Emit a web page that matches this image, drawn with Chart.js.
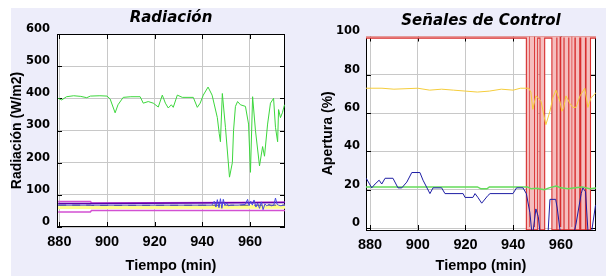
<!DOCTYPE html>
<html>
<head>
<meta charset="utf-8">
<script src="https://cdn.jsdelivr.net/npm/chart.js@4.4.1/dist/chart.umd.min.js"></script>
<style>
  body { margin: 0; background: #fff; width: 606px; height: 276px; overflow: hidden; position: relative; }
  #bg { position: absolute; left: 11px; top: 8px; right: 0; bottom: 0; background: #ededfa; }
  canvas { position: absolute; top: 0; }
  #rad { left: 0; }
  #ctrl { left: 303px; }
</style>
</head>
<body>
<div id="bg"></div>
<canvas id="rad" width="303" height="276"></canvas>
<canvas id="ctrl" width="303" height="276"></canvas>
<script>
// tick labels
const timeTicks = [880, 900, 920, 940, 960];
const radTicks = [0, 100, 200, 300, 400, 500, 600];
const ctrlTicks = [0, 20, 40, 60, 80, 100];

// Radiacion - green series
const radTime = [879.5, 881, 883, 886, 889, 891.5, 893, 897, 900, 901.3, 903.4, 904.6, 906.8, 910, 913.9,
  915.2, 917.3, 919.4, 921.5, 923.2, 924.5, 925.7, 927, 927.8, 929.5, 931.6, 936.2, 937.9, 939.1, 940.4,
  942.4, 944.1, 946.3, 947.1, 947.6, 948.4, 949.7, 951.4, 952.6, 953.1, 953.9, 954.8, 956, 958.1, 959.4,
  960.2, 961.1, 962.3, 964, 965.3, 966.1, 967.4, 968.6, 969.9, 970.7, 971.6, 972, 972.8, 973.6, 974.5];
const radValue = [400, 395, 405, 408, 406, 402, 407, 408, 407, 398, 355, 380, 403, 405, 405,
  385, 390, 385, 373, 410, 385, 370, 380, 372, 410, 403, 403, 372, 385, 410,
  435, 410, 340, 290, 265, 415, 310, 155, 200, 300, 375, 390, 380, 375, 320,
  170, 405, 300, 190, 250, 220, 320, 385, 400, 310, 265, 365, 340, 355, 380];

// Radiacion - lower lines
const bandTime = [879.5, 893, 893.5, 975];
const magUpper = [79, 79, 75, 77];
const magLower = [47, 47, 51, 51];
const yellowLow = [62, 62, 62, 63];
const grayLow = [68, 68, 67, 68];
const purpleLow = [73, 73, 73, 76];
const blueLowTime = [879.5, 944, 945, 945.7, 946.3, 947, 947.6, 948.2, 948.8, 949.5, 950.2, 951, 952, 955,
  958, 959, 959.6, 960.3, 961, 961.7, 962.5, 963.2, 964, 964.8, 965.5, 966.3, 967, 968, 969, 970,
  970.7, 971.4, 972, 973, 974, 975];
const blueLow = [68, 68, 80, 62, 85, 60, 88, 58, 86, 66, 75, 66, 68, 68,
  70, 86, 66, 80, 68, 84, 62, 74, 58, 78, 54, 72, 66, 70, 66, 68,
  90, 70, 68, 66, 68, 68];

// Senales de Control
const redTime = [878.3, 946.2, 946.2, 947.4, 947.4, 948.3, 948.3, 949.6, 949.6, 951.9, 951.9, 952.5, 952.5,
  956.9, 956.9, 957.6, 957.6, 959, 959, 960.6, 960.6, 962, 962, 962.6, 962.6, 964, 964, 965.2, 965.2,
  966.7, 966.7, 967.2, 967.2, 969, 969, 969.6, 969.6, 971.2, 971.2, 971.7, 971.7, 975];
const redValue = [100, 100, 0, 0, 100, 100, 0, 0, 100, 100, 0, 0, 100,
  100, 0, 0, 100, 100, 0, 0, 100, 100, 0, 0, 100, 100, 0, 0, 100,
  100, 0, 0, 100, 100, 0, 0, 100, 100, 0, 0, 100, 100];

const yellowTime = [878.3, 885, 890, 900, 905, 910, 915, 920, 925, 930, 935, 940, 943, 945, 946.5, 947.4,
  948.2, 949.5, 950.5, 951.7, 953, 953.7, 955.4, 956.6, 957.9, 959.6, 960.4, 961.2, 962.1, 963.8, 965,
  966.3, 968, 970, 971.3, 972.6, 974.2, 975];
const yellowValue = [73, 73, 72.5, 73, 72, 72.5, 72, 71.5, 71, 71.5, 72.5, 72, 73, 73, 73, 71,
  62, 69, 68, 66, 58, 54, 61, 68, 72, 66, 61, 63, 69, 65, 63,
  63, 69, 73, 63, 68, 70, 71];

const greenTime = [878.3, 925, 926.5, 929, 930, 946, 947.5, 950, 953, 955, 958, 960, 963, 966, 969, 972, 975];
const greenValue = [21.5, 21.5, 20.5, 20.5, 21.5, 21.5, 20.5, 20.8, 20, 21, 22, 21, 20.5, 21, 21.5, 20.5, 21];

const blueTime = [878.4, 880.7, 882.1, 883.8, 884.9, 886.3, 889.6, 891.7, 893.3, 895.4, 897.5, 900.9, 902.2,
  905.1, 906.4, 910, 911.4, 919, 919.8, 923.1, 924, 925.2, 926.8, 929.4, 930.3, 939.9, 941.4, 944.1,
  945.5, 947, 948, 949.5, 950.5, 951.5, 954.5, 955.4, 957.8, 958.5, 960, 965, 966.3, 968.5, 969.2,
  970.3, 971.5, 972.5, 974.5];
const blueValue = [26, 21, 23, 25, 23, 26, 26, 21, 21, 24, 29, 29, 25,
  18, 21, 21, 18, 18, 16, 16, 18, 16, 13, 17, 18, 18, 21, 21,
  18, 8, -5, 10, 6, -5, -5, 15, 15, 10, -5, -5, 2, 18, 21,
  19, -5, -5, 12];

const pts = (t, v) => t.map((x, i) => ({ x: x, y: v[i] }));

// pick a narrow bold face for the time axis if one is installed
function hasFont(name) {
  const c = document.createElement('canvas').getContext('2d');
  const probe = 'Tiempo (min) 880';
  c.font = 'bold 16px monospace';
  const a = c.measureText(probe).width;
  c.font = "bold 16px '" + name + "', monospace";
  return Math.abs(c.measureText(probe).width - a) > 0.5;
}
let xFont;
if (hasFont('Liberation Sans Narrow')) {
  xFont = { family: "'Liberation Sans Narrow'", size: 15.5, weight: 'bold' };
} else {
  xFont = { family: "'Liberation Sans'", size: 14.5, weight: 'bold' };
}

const gridColor = 'rgb(200,200,200)';
const tickFont = { family: 'DejaVu Sans', size: 11.5, weight: 'bold' };
const titleFont = { family: 'DejaVu Sans', size: 15, weight: 'bold', style: 'italic' };
const yTitleFont = { family: 'Liberation Sans', size: 14, weight: 'bold' };

// white plot area, black frame and inner tick marks
const frame = {
  id: 'frame',
  beforeDraw(chart) {
    const a = chart.chartArea, ctx = chart.ctx;
    ctx.save();
    ctx.fillStyle = '#fff';
    ctx.fillRect(a.left, a.top, a.width, a.height);
    ctx.restore();
  },
  beforeDatasetsDraw(chart) {
    const a = chart.chartArea, ctx = chart.ctx;
    const x = chart.scales.x, y = chart.scales.y;
    ctx.save();
    ctx.strokeStyle = '#000';
    ctx.lineWidth = 1;
    ctx.beginPath();
    x.ticks.forEach(t => {
      const px = Math.round(x.getPixelForValue(t.value)) + 0.5;
      ctx.moveTo(px, a.top); ctx.lineTo(px, a.top + 5);
      ctx.moveTo(px, a.bottom); ctx.lineTo(px, a.bottom - 5);
    });
    y.ticks.forEach(t => {
      const py = Math.round(y.getPixelForValue(t.value)) + 0.5;
      ctx.moveTo(a.left, py); ctx.lineTo(a.left + 5, py);
      ctx.moveTo(a.right, py); ctx.lineTo(a.right - 5, py);
    });
    ctx.stroke();
    ctx.strokeRect(Math.round(a.left) + 0.5, Math.round(a.top) + 0.5, Math.round(a.width) - 1, Math.round(a.height) - 1);
    ctx.restore();
  }
};

function line(data, color, width, dash) {
  return { data: data, borderColor: color, borderWidth: width || 1, borderDash: dash || [], pointRadius: 0, tension: 0, fill: false };
}

function options(cfg) {
  return {
    responsive: false,
    animation: false,
    devicePixelRatio: 1,
    layout: { padding: { left: 0, right: cfg.right, top: 0, bottom: 0 } },
    plugins: {
      legend: { display: false },
      tooltip: { enabled: false },
      title: { display: true, fullSize: false, text: cfg.title, color: '#000', font: titleFont, padding: cfg.titlePad }
    },
    scales: {
      x: {
        type: 'linear', min: cfg.xMin, max: cfg.xMax,
        afterBuildTicks: s => { s.ticks = timeTicks.map(v => ({ value: v })); },
        afterFit: s => { s.height = cfg.xH; },
        grid: { color: gridColor, drawTicks: false },
        border: { display: false },
        ticks: { padding: 6, color: '#000', font: xFont, maxRotation: 0, autoSkip: false },
        title: { display: true, text: 'Tiempo (min)', color: '#000', font: xFont, padding: { top: 0, bottom: 1 } }
      },
      y: {
        type: 'linear', min: cfg.yMin, max: cfg.yMax,
        afterBuildTicks: s => { s.ticks = cfg.yTicks.map(v => ({ value: v })); },
        afterFit: s => { s.width = cfg.yW; },
        grid: { color: gridColor, drawTicks: false },
        border: { display: false },
        ticks: { padding: cfg.yPad, labelOffset: -5, color: '#000', font: tickFont },
        title: { display: true, text: cfg.yTitle, color: '#000', font: yTitleFont, padding: { top: cfg.yTitlePad, bottom: 0 } }
      }
    }
  };
}

new Chart(document.getElementById('rad'), {
  type: 'line',
  data: {
    datasets: [
      line(pts(blueLowTime, blueLow), 'rgb(70,70,225)'),
      line(pts(bandTime, purpleLow), 'rgb(95,0,170)', 1.5),
      line(pts(bandTime, grayLow), 'rgb(90,90,90)', 1, [8, 6]),
      line(pts(bandTime, magUpper), 'rgb(210,80,210)', 1.5),
      line(pts(bandTime, magLower), 'rgb(210,80,210)', 1.5),
      line(pts(bandTime, yellowLow), 'rgb(255,255,140)', 4),
      line(pts(radTime, radValue), 'rgb(60,215,60)')
    ]
  },
  options: options({
    title: 'Radiación', titlePad: { top: 9, bottom: 7 }, right: 18,
    xMin: 879, xMax: 974.7, xH: 49,
    yMin: 0, yMax: 600, yTicks: radTicks, yW: 57, yPad: 7,
    yTitle: 'Radiación (W/m2)', yTitlePad: 9
  }),
  plugins: [frame]
});

new Chart(document.getElementById('ctrl'), {
  type: 'line',
  data: {
    datasets: [
      line(pts(blueTime, blueValue), 'rgb(30,30,165)'),
      line(pts(yellowTime, yellowValue), 'rgb(245,205,60)'),
      line(pts(greenTime, greenValue), 'rgb(100,220,90)', 1.5),
      line(pts(redTime, redValue), 'rgb(245,190,190)', 2.2),
      line(pts(redTime, redValue), 'rgb(215,45,45)', 4.4)
    ]
  },
  options: options({
    title: 'Señales de Control', titlePad: { top: 12.5, bottom: 6 }, right: 10,
    xMin: 878.3, xMax: 974.7, xH: 46,
    yMin: -1, yMax: 100, yTicks: ctrlTicks, yW: 63, yPad: 6,
    yTitle: 'Apertura (%)', yTitlePad: 16.5
  }),
  plugins: [frame]
});
</script>
</body>
</html>
